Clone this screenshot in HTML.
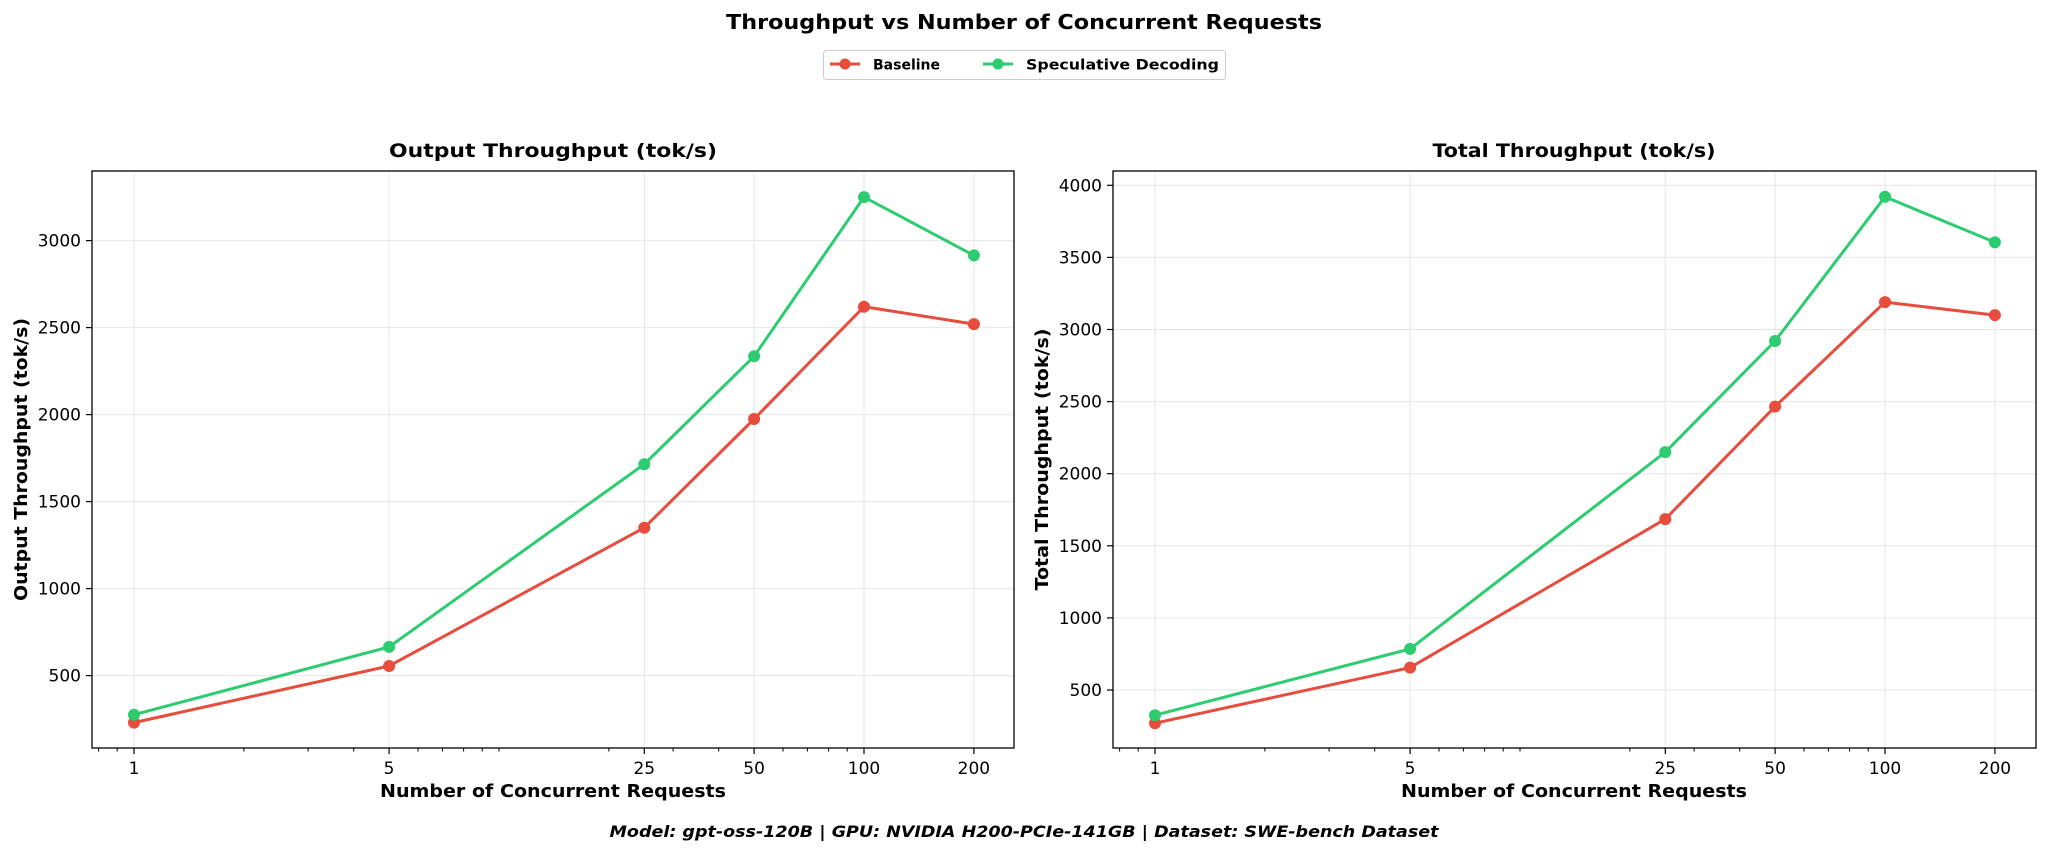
<!DOCTYPE html>
<html><head><meta charset="utf-8"><style>
html,body{margin:0;padding:0;background:#fff;}
svg{display:block;font-family:"DejaVu Sans","Liberation Sans",sans-serif;}
.t{font-size:17px;fill:#000;}
.b{font-weight:bold;}
</style></head><body>
<svg width="2048" height="853" viewBox="0 0 2048 853" xmlns="http://www.w3.org/2000/svg">
<defs>
<g id="minor" stroke="#000" stroke-width="1">
<line x1="-35.4" y1="0" x2="-35.4" y2="3.5"/><line x1="-16.8" y1="0" x2="-16.8" y2="3.5"/>
<line x1="109.9" y1="0" x2="109.9" y2="3.5"/><line x1="174.1" y1="0" x2="174.1" y2="3.5"/>
<line x1="219.7" y1="0" x2="219.7" y2="3.5"/><line x1="284" y1="0" x2="284" y2="3.5"/>
<line x1="308.4" y1="0" x2="308.4" y2="3.5"/><line x1="329.6" y1="0" x2="329.6" y2="3.5"/>
<line x1="348.2" y1="0" x2="348.2" y2="3.5"/><line x1="365" y1="0" x2="365" y2="3.5"/>
<line x1="474.9" y1="0" x2="474.9" y2="3.5"/><line x1="539.1" y1="0" x2="539.1" y2="3.5"/>
<line x1="584.7" y1="0" x2="584.7" y2="3.5"/><line x1="649" y1="0" x2="649" y2="3.5"/>
<line x1="673.4" y1="0" x2="673.4" y2="3.5"/><line x1="694.6" y1="0" x2="694.6" y2="3.5"/>
<line x1="713.2" y1="0" x2="713.2" y2="3.5"/>
</g>
</defs>

<text x="1024" y="29" text-anchor="middle" class="b" style="font-size:20px" textLength="596" lengthAdjust="spacingAndGlyphs">Throughput vs Number of Concurrent Requests</text>

<rect x="823.5" y="50.5" width="402" height="29" rx="3" fill="#fff" stroke="#ccc" stroke-width="1"/>
<line x1="830" y1="64" x2="860" y2="64" stroke="#e74c3c" stroke-width="3"/><circle cx="845" cy="64" r="5.5" fill="#e74c3c"/>
<text x="873" y="69.5" class="b" style="font-size:14px">Baseline</text>
<line x1="983" y1="64" x2="1013" y2="64" stroke="#2ecc71" stroke-width="3"/><circle cx="998" cy="64" r="5.5" fill="#2ecc71"/>
<text x="1026" y="69.5" class="b" style="font-size:14px" textLength="193" lengthAdjust="spacingAndGlyphs">Speculative Decoding</text>

<!-- LEFT -->
<g stroke="#e6e6e6" stroke-width="1">
<line x1="92" x2="1014" y1="675.6" y2="675.6"/><line x1="92" x2="1014" y1="588.6" y2="588.6"/>
<line x1="92" x2="1014" y1="501.6" y2="501.6"/><line x1="92" x2="1014" y1="414.6" y2="414.6"/>
<line x1="92" x2="1014" y1="327.6" y2="327.6"/><line x1="92" x2="1014" y1="240.6" y2="240.6"/>
<line y1="171" y2="748" x1="134" x2="134"/><line y1="171" y2="748" x1="389.1" x2="389.1"/>
<line y1="171" y2="748" x1="644.3" x2="644.3"/><line y1="171" y2="748" x1="754.1" x2="754.1"/>
<line y1="171" y2="748" x1="864" x2="864"/><line y1="171" y2="748" x1="973.9" x2="973.9"/>
</g>
<polyline fill="none" stroke="#e74c3c" stroke-width="3" points="134,722.6 389.1,666 644.3,527.7 754.1,419 864,306.7 973.9,324.1"/>
<polyline fill="none" stroke="#2ecc71" stroke-width="3" points="134,714.7 389.1,646.9 644.3,464.2 754.1,356.3 864,197.1 973.9,255.4"/>
<g fill="#e74c3c"><circle cx="134" cy="722.6" r="6"/><circle cx="389.1" cy="666" r="6"/><circle cx="644.3" cy="527.7" r="6"/><circle cx="754.1" cy="419" r="6"/><circle cx="864" cy="306.7" r="6"/><circle cx="973.9" cy="324.1" r="6"/></g>
<g fill="#2ecc71"><circle cx="134" cy="714.7" r="6"/><circle cx="389.1" cy="646.9" r="6"/><circle cx="644.3" cy="464.2" r="6"/><circle cx="754.1" cy="356.3" r="6"/><circle cx="864" cy="197.1" r="6"/><circle cx="973.9" cy="255.4" r="6"/></g>
<rect x="92" y="171" width="922" height="577" fill="none" stroke="#000" stroke-width="1.3"/>
<g stroke="#000" stroke-width="1.2">
<line x1="86" x2="92" y1="675.6" y2="675.6"/><line x1="86" x2="92" y1="588.6" y2="588.6"/><line x1="86" x2="92" y1="501.6" y2="501.6"/>
<line x1="86" x2="92" y1="414.6" y2="414.6"/><line x1="86" x2="92" y1="327.6" y2="327.6"/><line x1="86" x2="92" y1="240.6" y2="240.6"/>
<line y1="748" y2="754" x1="134" x2="134"/><line y1="748" y2="754" x1="389.1" x2="389.1"/><line y1="748" y2="754" x1="644.3" x2="644.3"/>
<line y1="748" y2="754" x1="754.1" x2="754.1"/><line y1="748" y2="754" x1="864" x2="864"/><line y1="748" y2="754" x1="973.9" x2="973.9"/>
</g>
<use href="#minor" x="134" y="748"/>
<g class="t" text-anchor="end">
<text x="81" y="681.6">500</text><text x="81" y="594.6">1000</text><text x="81" y="507.6">1500</text>
<text x="81" y="420.6">2000</text><text x="81" y="333.6">2500</text><text x="81" y="246.6">3000</text>
</g>
<g class="t" text-anchor="middle">
<text x="134" y="774">1</text><text x="389.1" y="774">5</text><text x="644.3" y="774">25</text>
<text x="754.1" y="774">50</text><text x="864" y="774">100</text><text x="973.9" y="774">200</text>
</g>
<text x="553" y="157" text-anchor="middle" class="b" style="font-size:19px" textLength="328" lengthAdjust="spacingAndGlyphs">Output Throughput (tok/s)</text>
<text x="553" y="797" text-anchor="middle" class="b" style="font-size:18px" textLength="346" lengthAdjust="spacingAndGlyphs">Number of Concurrent Requests</text>
<text transform="translate(27,459.5) rotate(-90)" text-anchor="middle" class="b" style="font-size:18px" textLength="283" lengthAdjust="spacingAndGlyphs">Output Throughput (tok/s)</text>

<!-- RIGHT -->
<g stroke="#e6e6e6" stroke-width="1">
<line x1="1113" x2="2036" y1="690" y2="690"/><line x1="1113" x2="2036" y1="617.9" y2="617.9"/>
<line x1="1113" x2="2036" y1="545.8" y2="545.8"/><line x1="1113" x2="2036" y1="473.7" y2="473.7"/>
<line x1="1113" x2="2036" y1="401.6" y2="401.6"/><line x1="1113" x2="2036" y1="329.5" y2="329.5"/>
<line x1="1113" x2="2036" y1="257.4" y2="257.4"/><line x1="1113" x2="2036" y1="185.3" y2="185.3"/>
<line y1="171" y2="748" x1="1155" x2="1155"/><line y1="171" y2="748" x1="1410.1" x2="1410.1"/>
<line y1="171" y2="748" x1="1665.3" x2="1665.3"/><line y1="171" y2="748" x1="1775.1" x2="1775.1"/>
<line y1="171" y2="748" x1="1885" x2="1885"/><line y1="171" y2="748" x1="1994.9" x2="1994.9"/>
</g>
<polyline fill="none" stroke="#e74c3c" stroke-width="3" points="1155,723.2 1410.1,667.6 1665.3,519.1 1775.1,406.6 1885,302.1 1994.9,315.1"/>
<polyline fill="none" stroke="#2ecc71" stroke-width="3" points="1155,715.2 1410.1,648.9 1665.3,452.1 1775.1,341 1885,196.8 1994.9,242.3"/>
<g fill="#e74c3c"><circle cx="1155" cy="723.2" r="6"/><circle cx="1410.1" cy="667.6" r="6"/><circle cx="1665.3" cy="519.1" r="6"/><circle cx="1775.1" cy="406.6" r="6"/><circle cx="1885" cy="302.1" r="6"/><circle cx="1994.9" cy="315.1" r="6"/></g>
<g fill="#2ecc71"><circle cx="1155" cy="715.2" r="6"/><circle cx="1410.1" cy="648.9" r="6"/><circle cx="1665.3" cy="452.1" r="6"/><circle cx="1775.1" cy="341" r="6"/><circle cx="1885" cy="196.8" r="6"/><circle cx="1994.9" cy="242.3" r="6"/></g>
<rect x="1113" y="171" width="923" height="577" fill="none" stroke="#000" stroke-width="1.3"/>
<g stroke="#000" stroke-width="1.2">
<line x1="1107" x2="1113" y1="690" y2="690"/><line x1="1107" x2="1113" y1="617.9" y2="617.9"/><line x1="1107" x2="1113" y1="545.8" y2="545.8"/>
<line x1="1107" x2="1113" y1="473.7" y2="473.7"/><line x1="1107" x2="1113" y1="401.6" y2="401.6"/><line x1="1107" x2="1113" y1="329.5" y2="329.5"/>
<line x1="1107" x2="1113" y1="257.4" y2="257.4"/><line x1="1107" x2="1113" y1="185.3" y2="185.3"/>
<line y1="748" y2="754" x1="1155" x2="1155"/><line y1="748" y2="754" x1="1410.1" x2="1410.1"/><line y1="748" y2="754" x1="1665.3" x2="1665.3"/>
<line y1="748" y2="754" x1="1775.1" x2="1775.1"/><line y1="748" y2="754" x1="1885" x2="1885"/><line y1="748" y2="754" x1="1994.9" x2="1994.9"/>
</g>
<use href="#minor" x="1155" y="748"/>
<g class="t" text-anchor="end">
<text x="1102" y="696">500</text><text x="1102" y="623.9">1000</text><text x="1102" y="551.8">1500</text>
<text x="1102" y="479.7">2000</text><text x="1102" y="407.6">2500</text><text x="1102" y="335.5">3000</text>
<text x="1102" y="263.4">3500</text><text x="1102" y="191.3">4000</text>
</g>
<g class="t" text-anchor="middle">
<text x="1155" y="774">1</text><text x="1410.1" y="774">5</text><text x="1665.3" y="774">25</text>
<text x="1775.1" y="774">50</text><text x="1885" y="774">100</text><text x="1994.9" y="774">200</text>
</g>
<text x="1574" y="157" text-anchor="middle" class="b" style="font-size:19px" textLength="283" lengthAdjust="spacingAndGlyphs">Total Throughput (tok/s)</text>
<text x="1574" y="797" text-anchor="middle" class="b" style="font-size:18px" textLength="346" lengthAdjust="spacingAndGlyphs">Number of Concurrent Requests</text>
<text transform="translate(1048,459.5) rotate(-90)" text-anchor="middle" class="b" style="font-size:18px" textLength="262" lengthAdjust="spacingAndGlyphs">Total Throughput (tok/s)</text>

<text x="1024" y="837" text-anchor="middle" class="b" style="font-size:16px;font-style:italic" textLength="829" lengthAdjust="spacingAndGlyphs">Model: gpt-oss-120B | GPU: NVIDIA H200-PCIe-141GB | Dataset: SWE-bench Dataset</text>
</svg>
</body></html>
